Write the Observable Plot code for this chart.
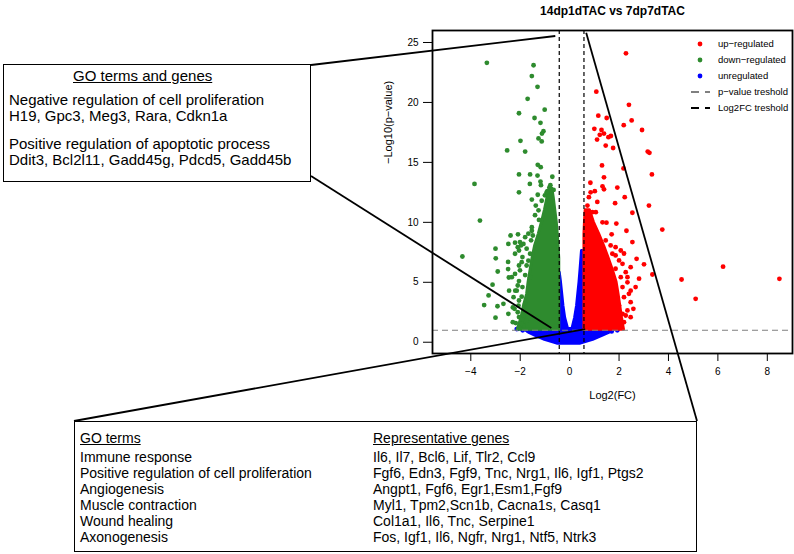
<!DOCTYPE html>
<html><head><meta charset="utf-8">
<script src="https://cdn.jsdelivr.net/npm/d3@7"></script>
<script src="https://cdn.jsdelivr.net/npm/@observablehq/plot@0.6"></script>
<style>
body{margin:0;background:#fff;}
#wrap{position:relative;width:794px;height:554px;overflow:hidden;font-family:"Liberation Sans",Arial,Helvetica,sans-serif;color:#000;}
#chart{position:absolute;left:0;top:0;}
#overlay{position:absolute;left:0;top:0;}
.box{position:absolute;border:1.5px solid #000;background:#fff;box-sizing:border-box;}
.t{position:absolute;white-space:nowrap;line-height:16px;}
.u{text-decoration:underline;}
</style></head>
<body><div id="wrap"><div id="chart"></div><svg id="overlay" width="794" height="554"></svg></div>
<script>
// ---------- data ----------
const title = "14dp1dTAC vs 7dp7dTAC";
const xLabel = "Log2(FC)";
const yLabel = "\u2212Log10(p\u2212value)";
const xTicks = [-4, -2, 0, 2, 4, 6, 8];
const yTicks = [0, 5, 10, 15, 20, 25];
const fcThreshold = [-0.42, 0.58];
const pThreshold = 1;

// individual, distinguishable points [log2FC, -log10 p]
const downRegulated = [
 [-3.35,23.3],[-1.46,23.1],[-1.53,22.2],[-1.30,21.3],[-1.70,20.3],[-2.05,19.1],[-1.01,19.4],[-1.42,18.7],
 [-1.18,18.3],[-1.06,17.6],[-1.12,17.4],[-1.99,16.8],[-1.26,17.0],[-1.13,16.75],[-2.53,16.0],[-1.80,15.9],
 [-1.29,14.8],[-1.17,14.6],[-2.05,14.0],[-1.60,14.0],[-1.30,13.9],[-0.70,13.8],[-3.85,13.2],[-1.61,13.2],
 [-1.18,13.4],[-1.16,13.1],[-0.82,12.9],[-0.78,13.1],[-0.65,12.7],[-0.90,12.6],[-2.05,12.5],[-1.29,12.3],
 [-3.63,10.15],[-4.34,7.15],[-2.39,8.9],[-2.09,9.0],[-2.21,8.3],[-2.01,8.35],[-2.99,7.0],[-3.0,7.8],
 [-2.48,8.2],[-2.49,6.7],[-2.91,5.9],[-2.49,6.1],[-2.46,5.4],[-3.12,4.8],[-3.28,3.9],[-3.46,3.1],
 [-2.92,3.0],[-3.0,2.05],[-2.68,3.2],[-2.45,4.3],[-2.2,4.3],[-2.3,2.9],[-2.3,1.67],[-2.18,1.6],[-1.87,1.4],
 [-1.53,9.3],[-1.49,8.9],[-1.56,8.5],[-1.87,8.2],[-2.05,7.65],[-1.91,7.1],[-1.67,6.8],[-2.01,6.0],
 [-1.80,5.6],[-2.05,5.1],[-2.14,4.3],[-1.94,3.8],[-2.07,3.06],[-1.87,2.65],[-2.05,2.1],[-1.74,1.8],
 [-1.94,1.53],[-1.26,11.0],[-1.40,10.6],[-1.24,10.2],[-1.13,11.8],[-1.0,12.25],[-0.93,12.5],[-1.53,11.9],[-1.37,11.4],
 [-1.53,9.6],[-1.67,9.05],[-1.80,8.76],[-1.97,8.07],[-2.10,7.93],[-1.74,7.8],[-1.60,7.38],[-2.21,7.38],
 [-1.94,6.68],[-2.05,6.4],[-1.74,6.4],[-2.21,5.7],[-2.34,5.43],[-1.60,5.43],[-2.10,4.73],[-1.91,4.6],
 [-2.27,3.76],[-2.05,3.48],[-1.80,3.2],[-2.23,2.79],[-2.10,2.5],[-2.48,2.37],[-1.87,2.23]
];
const upRegulated = [
 [2.28,24.1],[1.08,20.9],[2.40,19.8],[1.16,18.9],[1.50,18.7],[2.51,18.5],[2.19,18.1],[1.00,17.8],
 [1.29,17.7],[1.39,17.4],[1.22,17.3],[1.57,17.1],[1.67,17.2],[1.11,16.9],[2.93,17.7],[1.46,16.4],
 [1.76,16.2],[3.16,15.9],[3.23,15.8],[1.31,14.75],[2.18,14.5],[3.33,14.0],[1.39,13.75],[0.84,13.3],
 [1.33,13.0],[1.39,12.75],[1.02,12.6],[1.93,12.9],[2.23,12.1],[3.21,11.4],[1.84,11.6],[1.12,11.7],
 [0.85,12.5],[0.78,12.1],[0.72,11.4],[0.92,10.85],[1.06,10.85],[2.54,10.8],[3.75,9.4],[1.49,9.97],
 [1.89,9.9],[1.33,10.0],[2.30,9.3],[1.70,9.0],[2.54,8.35],[2.07,7.65],[2.20,7.4],[1.86,7.24],
 [2.71,6.96],[3.01,6.5],[2.47,6.26],[3.35,5.65],[2.81,5.3],[2.34,5.43],[2.67,4.6],[2.47,4.3],
 [2.58,2.79],[2.27,2.23],[2.20,1.67],[2.07,1.95],[6.21,6.3],[4.53,5.23],[5.10,3.62],[8.49,5.29],
 [1.46,8.49],[1.66,8.07],[1.86,7.93],[1.73,7.38],[2.0,6.82],[2.14,6.54],[1.86,6.13],[2.27,5.84],
 [2.07,5.43],[2.34,5.0],[2.14,4.6],[2.40,4.04],[2.20,3.76],[2.47,3.34],[2.0,3.06],[2.34,2.65],
 [2.14,2.37],[2.47,2.09]
];
const unregulated = [
 [-2.14,1.1],[-1.67,0.95],[-2.09,1.12],[1.93,1.0],[1.7,0.9],[-1.9,1.0],[-1.45,0.95],[1.45,0.95]
];
// dense clouds: outline per -log10 p level [y, left x, right x]
const downCore = [[1.05,-2.1,-0.42],[2,-1.95,-0.42],[3,-1.85,-0.42],[4,-1.72,-0.42],[5,-1.66,-0.42],[6,-1.58,-0.42],
 [7,-1.5,-0.42],[8,-1.4,-0.45],[9,-1.25,-0.48],[10,-1.12,-0.52],[11,-1.0,-0.58],[12,-0.9,-0.64],[12.8,-0.8,-0.7]];
const upCore = [[1.05,0.6,2.2],[2,0.6,2.12],[3,0.6,2.05],[4,0.6,1.98],[5,0.6,1.9],[6,0.6,1.75],[7,0.6,1.58],
 [8,0.6,1.4],[9,0.6,1.2],[10,0.62,0.98],[11,0.65,0.82]];
const unregBase = [[-0.12,-0.5,0.45],[0.2,-1.0,0.95],[0.5,-1.35,1.3],[0.8,-1.65,1.62],[1.1,-1.85,1.82]];
const unregLeftArm = [[1.0,-0.42,-0.05],[2,-0.42,-0.18],[3,-0.42,-0.25],[4,-0.42,-0.3],[5,-0.42,-0.35],[5.8,-0.42,-0.4]];
const unregRightArm = [[1.0,0.1,0.6],[2,0.22,0.6],[3,0.3,0.6],[4,0.35,0.6],[5,0.4,0.6],[6,0.44,0.6],[7.6,0.5,0.6]];

const legendLabels = ["up\u2212regulated","down\u2212regulated","unregulated","p\u2212value treshold","Log2FC treshold"];

const leftBoxTitle = "GO terms and genes";
const leftBoxLines = ["Negative regulation of cell proliferation","H19, Gpc3, Meg3, Rara, Cdkn1a",
  "Positive regulation of apoptotic process","Ddit3, Bcl2l11, Gadd45g, Pdcd5, Gadd45b"];
const goTerms = ["Immune response","Positive regulation of cell proliferation","Angiogenesis",
  "Muscle contraction","Wound healing","Axonogenesis"];
const repGenes = ["Il6, Il7, Bcl6, Lif, Tlr2, Ccl9","Fgf6, Edn3, Fgf9, Tnc, Nrg1, Il6, Igf1, Ptgs2",
  "Angpt1, Fgf6, Egr1,Esm1,Fgf9","Myl1, Tpm2,Scn1b, Cacna1s, Casq1","Col1a1, Il6, Tnc, Serpine1",
  "Fos, Igf1, Il6, Ngfr, Nrg1, Ntf5, Ntrk3"];
// where the zoom lines touch the plot (data units)
const zoomAnchors = [[-0.56,25.5],[-0.72,1.14],[0.65,1.06],[0.69,25.77]];

// ---------- styling / layout ----------
const FONT = "Liberation Sans, Arial, Helvetica, sans-serif";
const RED = "#ff0000", GREEN = "#2e8b2e", BLUE = "#0000ff";
const leftBox = {left:3, top:64, width:308, height:118};
const bottomBox = {left:74, top:421, width:623, height:131};

const pts = a => a.map(([x,y]) => ({x,y}));
const band = (a, part) => a.map(([y,x1,x2]) => ({y,x1,x2,part}));
const R = 2.4;

const chart = Plot.plot({
  width: 794, height: 554,
  marginLeft: 432, marginRight: 2, marginTop: 30, marginBottom: 201,
  x: {domain: [-5.55, 9.02]},
  y: {domain: [-0.94, 26.0]},
  style: {fontFamily: FONT, fontSize: "10px", background: "transparent", color: "#000", overflow: "visible"},
  marks: [
    Plot.areaX([...band(unregBase,"b"), ...band(unregLeftArm,"l"), ...band(unregRightArm,"r")],
      {y:"y", x1:"x1", x2:"x2", z:"part", fill: BLUE, stroke: BLUE, strokeWidth: 3, strokeLinejoin: "round"}),
    Plot.dot(pts(unregulated), {x:"x", y:"y", r:R, fill: BLUE}),
    Plot.areaX(band(downCore,"d"), {y:"y", x1:"x1", x2:"x2", fill: GREEN, stroke: GREEN, strokeWidth: 3, strokeLinejoin: "round"}),
    Plot.dot(pts(downRegulated), {x:"x", y:"y", r:R, fill: GREEN}),
    Plot.areaX(band(upCore,"u"), {y:"y", x1:"x1", x2:"x2", fill: RED, stroke: RED, strokeWidth: 3, strokeLinejoin: "round"}),
    Plot.dot(pts(upRegulated), {x:"x", y:"y", r:R, fill: RED}),
    Plot.ruleX(fcThreshold, {stroke: "#000", strokeWidth: 1.2, strokeDasharray: "4,3"}),
    Plot.ruleY([pThreshold], {stroke: "#808080", strokeWidth: 1.2, strokeDasharray: "6,4"}),
    Plot.frame({stroke: "#000", strokeWidth: 1.8}),
    Plot.axisX({ticks: xTicks, tickSize: 8, tickPadding: 6, label: null, fontSize: 10}),
    Plot.axisY({ticks: yTicks, tickSize: 9, tickPadding: 5, label: null, fontSize: 10}),
    Plot.text([xLabel], {frameAnchor: "bottom", dy: 45, fontSize: 11}),
    Plot.text([yLabel], {frameAnchor: "left", dx: -44, dy: -28, rotate: -90, fontSize: 11}),
    Plot.text([title], {frameAnchor: "top", dy: -24, fontSize: 12, fontWeight: "bold"})
  ]
});
document.getElementById("chart").append(chart);

// ---------- overlay: legend + zoom lines ----------
const sx = chart.scale("x"), sy = chart.scale("y");
const ov = d3.select("#overlay");
const corners = [
  [leftBox.left + leftBox.width, leftBox.top + 1],
  [leftBox.left + leftBox.width, leftBox.top + leftBox.height - 6],
  [bottomBox.left, bottomBox.top],
  [bottomBox.left + bottomBox.width, bottomBox.top]
];
zoomAnchors.forEach(([dx, dy], i) => {
  ov.append("line").attr("x1", corners[i][0]).attr("y1", corners[i][1])
    .attr("x2", sx.apply(dx)).attr("y2", sy.apply(dy))
    .attr("stroke", "#000").attr("stroke-width", 1.8);
});
const lg = {x: 700, y: 44, step: 16};
legendLabels.forEach((lab, i) => {
  const y = lg.y + i * lg.step;
  if (i < 3) {
    ov.append("circle").attr("cx", lg.x).attr("cy", y).attr("r", R).attr("fill", [RED, GREEN, BLUE][i]);
  } else {
    ov.append("line").attr("x1", lg.x - 9).attr("x2", lg.x + 10).attr("y1", y).attr("y2", y)
      .attr("stroke", i === 3 ? "#808080" : "#000").attr("stroke-width", 1.8).attr("stroke-dasharray", "8,6,5");
  }
  ov.append("text").attr("x", lg.x + 18).attr("y", y).attr("dy", "0.35em")
    .attr("font-family", FONT).attr("font-size", 9.5).text(lab);
});

// ---------- boxes ----------
const wrap = document.getElementById("wrap");
function addBox(b) {
  const d = document.createElement("div");
  d.className = "box";
  Object.assign(d.style, {left: b.left + "px", top: b.top + "px", width: b.width + "px", height: b.height + "px"});
  wrap.append(d);
  return d;
}
function addText(parent, txt, left, centerY, size, cls) {
  const s = document.createElement("div");
  s.className = "t" + (cls ? " " + cls : "");
  s.textContent = txt;
  Object.assign(s.style, {left: left + "px", top: (centerY - 8) + "px", fontSize: size + "px"});
  parent.append(s);
}
const lb = addBox(leftBox);
addText(lb, leftBoxTitle, 69, 11, 15, "u");
[35, 51, 79, 95].forEach((cy, i) => addText(lb, leftBoxLines[i], 5, cy, 15));

const bb = addBox(bottomBox);
addText(bb, "GO terms", 5, 16, 14, "u");
addText(bb, "Representative genes", 298, 16, 14, "u");
goTerms.forEach((t, i) => addText(bb, t, 5, 35 + i * 16, 14));
repGenes.forEach((t, i) => addText(bb, t, 298, 35 + i * 16, 14));
</script></body></html>
